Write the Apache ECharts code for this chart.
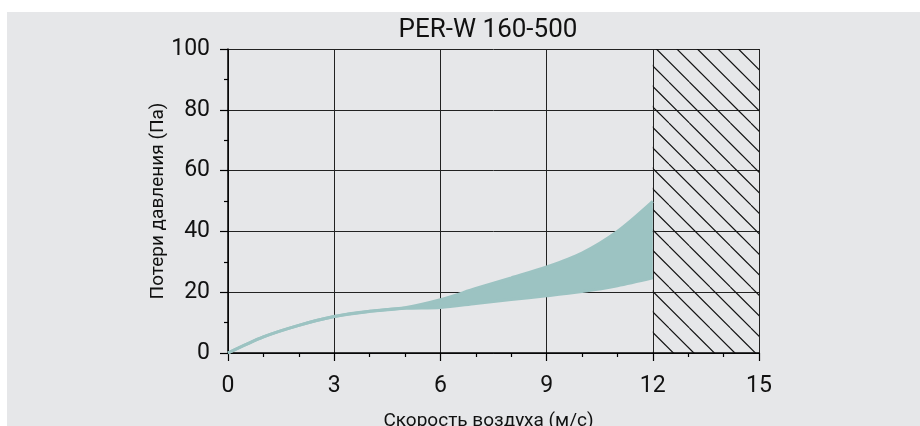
<!DOCTYPE html>
<html>
<head>
<meta charset="utf-8">
<script src="https://cdn.jsdelivr.net/npm/echarts@6/dist/echarts.min.js"></script>
<style>
  html, body { margin: 0; padding: 0; background: #ffffff; }
  #chart { width: 920px; height: 426px; }
</style>
</head>
<body>
<div id="chart"></div>
<script>
// ---- data ----
const chartTitle = 'PER-W 160-500';
const xName = 'Скорость воздуха (м/с)';
const yName = 'Потери давления (Па)';
const velocity = [0, 1, 2, 3, 4, 5, 6, 7, 8, 9, 10, 11, 12];
const lossMin  = [0, 5.3, 9.1, 12.0, 13.7, 14.7, 15.0, 16.3, 17.6, 18.8, 20.2, 22.1, 24.7];
const lossMax  = [0, 5.3, 9.1, 12.0, 13.7, 14.9, 17.5, 21.2, 24.7, 28.3, 32.9, 40.0, 49.9];
const xRange = [0, 15];
const xStep = 3;
const yRange = [0, 100];
const yStep = 20;
const hatchRange = [12, 15];

// ---- styling ----
const bandColor = '#9cc3c2';
const font = 'Roboto, "Noto Sans", sans-serif';

function makeHatch() {
  const T = 41;
  const c = document.createElement('canvas');
  c.width = T; c.height = T;
  const ctx = c.getContext('2d');
  ctx.strokeStyle = '#111';
  ctx.lineWidth = 1.1;
  [12.9, 33.4].forEach(function (off) {
    for (let k = -2; k <= 1; k++) {
      ctx.beginPath();
      ctx.moveTo(off + k * T, 0);
      ctx.lineTo(off + k * T + T, T);
      ctx.stroke();
    }
  });
  return c;
}

// rows are [loss, velocity] so that the stacked dimension is the y (loss) one
const lowerData = velocity.map((v, i) => [lossMin[i], v]);
const diffData = velocity.map((v, i) => [+(lossMax[i] - lossMin[i]).toFixed(2), v]);

const chart = echarts.init(document.getElementById('chart'));
chart.setOption({
  animation: false,
  backgroundColor: '#ffffff',
  graphic: [{
    type: 'rect', z: -10, silent: true,
    shape: { x: 7, y: 12, width: 913, height: 414 },
    style: { fill: '#e6e7e9' }
  }],
  title: {
    text: chartTitle,
    left: 483, top: 12, textAlign: 'center',
    textStyle: { fontFamily: font, fontSize: 26, fontWeight: 'normal', color: '#111' }
  },
  grid: { left: 228, top: 49, width: 531, height: 304, containLabel: false, outerBoundsMode: 'none' },
  xAxis: {
    type: 'value', min: xRange[0], max: xRange[1], interval: xStep,
    name: xName, nameLocation: 'middle', nameGap: 59, nameMoveOverlap: false,
    nameTextStyle: { fontFamily: font, fontSize: 19, color: '#111', padding: [0, 10, 0, 0] },
    axisLine: { show: true, lineStyle: { color: '#000', width: 1.5 } },
    axisTick: { show: true, length: 8, lineStyle: { color: '#000', width: 1.2 } },
    minorTick: { show: true, splitNumber: 3, length: 4, lineStyle: { color: '#000', width: 1.2 } },
    splitLine: { show: true, lineStyle: { color: '#222', width: 1 } },
    axisLabel: { fontFamily: font, fontSize: 23, color: '#111', margin: 22 }
  },
  yAxis: {
    type: 'value', min: yRange[0], max: yRange[1], interval: yStep,
    name: yName, nameLocation: 'middle', nameGap: 60, nameMoveOverlap: false,
    nameTextStyle: { fontFamily: font, fontSize: 19, color: '#111' },
    axisLine: { show: true, lineStyle: { color: '#000', width: 1.5 } },
    axisTick: { show: true, length: 8, lineStyle: { color: '#000', width: 1.2 } },
    minorTick: { show: true, splitNumber: 2, length: 4, lineStyle: { color: '#000', width: 1.2 } },
    splitLine: { show: true, lineStyle: { color: '#222', width: 1 } },
    axisLabel: { fontFamily: font, fontSize: 23, color: '#111', margin: 18 }
  },
  series: [
    {
      type: 'line', stack: 'band', data: lowerData, encode: { x: 1, y: 0 },
      smooth: 0.3, showSymbol: false, symbol: 'none',
      lineStyle: { color: bandColor, width: 3 },
      markArea: {
        silent: true,
        itemStyle: { color: { image: makeHatch(), repeat: 'repeat' }, borderWidth: 0 },
        data: [[{ coord: [hatchRange[0], yRange[0]] }, { coord: [hatchRange[1], yRange[1]] }]]
      }
    },
    {
      type: 'line', stack: 'band', data: diffData, encode: { x: 1, y: 0 },
      smooth: 0.3, showSymbol: false, symbol: 'none',
      lineStyle: { color: bandColor, width: 3 },
      areaStyle: { color: bandColor, opacity: 1 }
    }
  ]
});
</script>
</body>
</html>
